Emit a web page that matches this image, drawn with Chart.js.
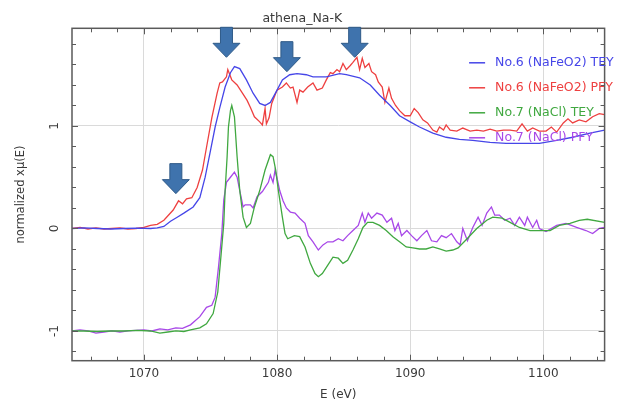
<!DOCTYPE html>
<html><head><meta charset="utf-8">
<style>html,body{margin:0;padding:0;background:#fff;}canvas{display:block;}</style>
<script src="https://cdn.jsdelivr.net/npm/chart.js@4.4.0/dist/chart.umd.min.js"></script>
</head><body>
<canvas id="c" width="630" height="403"></canvas>
<script>
// ---- data (E in eV, normalized x mu(E)) ----
const seriesNames = ["No.6 (NaFeO2) TEY", "No.6 (NaFeO2) PFY", "No.7 (NaCl) TEY", "No.7 (NaCl) PFY"];
const seriesColors = ["#4646e8", "#ee4040", "#40a840", "#a848e8"];

const feTeyE = [1064.6,1065.5,1066.5,1067.5,1068.5,1069.5,1070.5,1071.0,1071.5,1072.0,1072.5,1073.0,1073.7,1074.2,1074.6,1075.0,1075.35,1075.7,1076.1,1076.5,1076.8,1077.2,1077.7,1078.2,1078.7,1079.1,1079.5,1080.0,1080.4,1080.95,1081.5,1082.2,1082.7,1083.7,1084.7,1085.2,1086.2,1087.0,1087.7,1088.5,1089.2,1090.0,1090.7,1091.7,1092.7,1093.7,1094.7,1096.0,1097.2,1098.5,1099.7,1101.0,1102.2,1103.5,1104.6];
const feTeyMu = [0.00,0.005,0.0,-0.005,0.0,0.003,0.0,0.005,0.02,0.07,0.11,0.15,0.21,0.30,0.50,0.76,0.99,1.18,1.38,1.52,1.58,1.56,1.45,1.32,1.22,1.20,1.23,1.35,1.45,1.50,1.51,1.50,1.48,1.48,1.51,1.50,1.47,1.40,1.30,1.20,1.10,1.04,0.99,0.93,0.89,0.87,0.86,0.84,0.83,0.83,0.83,0.86,0.89,0.93,0.96];

const fePfyE = [1064.6,1065.2,1065.8,1066.4,1067.0,1067.6,1068.2,1068.8,1069.4,1070.0,1070.5,1071.0,1071.5,1072.2,1072.6,1072.9,1073.2,1073.6,1074.0,1074.4,1074.7,1075.1,1075.5,1075.7,1075.9,1076.2,1076.3,1076.6,1077.0,1077.4,1077.75,1078.0,1078.3,1078.7,1078.9,1079.1,1079.2,1079.4,1079.6,1080.0,1080.4,1080.7,1081.0,1081.2,1081.5,1081.7,1081.95,1082.3,1082.7,1083.0,1083.4,1083.7,1084.0,1084.2,1084.5,1084.7,1084.95,1085.2,1085.5,1085.7,1086.0,1086.2,1086.4,1086.6,1086.9,1087.1,1087.4,1087.6,1087.9,1088.1,1088.4,1088.6,1088.9,1089.2,1089.6,1090.0,1090.3,1090.6,1090.95,1091.3,1091.7,1092.0,1092.2,1092.5,1092.7,1093.0,1093.5,1093.95,1094.5,1095.0,1095.5,1096.0,1096.5,1097.0,1097.5,1098.0,1098.4,1098.8,1099.2,1099.7,1100.2,1100.6,1101.0,1101.5,1101.85,1102.2,1102.7,1103.2,1103.7,1104.2,1104.6];
const fePfyMu = [0.00,0.01,-0.005,0.005,-0.005,0.0,0.005,-0.005,0.0,0.01,0.03,0.04,0.08,0.18,0.27,0.24,0.29,0.30,0.40,0.57,0.79,1.08,1.32,1.42,1.43,1.48,1.55,1.45,1.40,1.32,1.25,1.18,1.09,1.04,1.01,1.17,1.02,1.08,1.22,1.35,1.38,1.42,1.37,1.38,1.23,1.35,1.33,1.38,1.42,1.35,1.37,1.45,1.52,1.51,1.55,1.53,1.61,1.55,1.59,1.62,1.67,1.55,1.66,1.57,1.61,1.53,1.50,1.43,1.38,1.23,1.37,1.27,1.20,1.15,1.10,1.10,1.17,1.13,1.06,1.03,0.96,0.94,0.99,0.96,1.01,0.96,0.95,0.98,0.95,0.96,0.95,0.97,0.95,0.96,0.96,0.95,1.02,0.95,0.98,0.95,0.95,0.99,0.94,1.03,1.07,1.03,1.06,1.04,1.09,1.12,1.11];

const clTeyE = [1064.6,1065.5,1066.5,1067.5,1068.5,1069.5,1070.5,1071.2,1071.8,1072.4,1073.0,1073.5,1074.2,1074.7,1075.2,1075.55,1075.8,1076.0,1076.1,1076.25,1076.35,1076.5,1076.6,1076.8,1077.0,1077.2,1077.45,1077.7,1078.0,1078.3,1078.7,1079.1,1079.5,1079.7,1079.9,1080.1,1080.4,1080.6,1080.8,1081.3,1081.7,1082.1,1082.5,1082.85,1083.1,1083.4,1083.8,1084.2,1084.6,1084.95,1085.3,1085.7,1086.1,1086.45,1086.8,1087.2,1087.7,1088.2,1088.7,1089.2,1089.7,1090.2,1090.7,1091.2,1091.7,1092.2,1092.7,1093.2,1093.6,1094.2,1095.0,1095.75,1096.2,1096.9,1097.5,1098.2,1099.0,1099.7,1100.5,1101.2,1102.0,1102.7,1103.3,1104.6];
const clTeyMu = [-1.00,-1.00,-1.005,-1.0,-1.0,-0.995,-1.0,-1.02,-1.01,-1.0,-1.005,-0.99,-0.97,-0.93,-0.83,-0.62,-0.25,0.05,0.37,0.70,0.99,1.15,1.20,1.09,0.70,0.37,0.11,0.01,0.05,0.21,0.37,0.57,0.72,0.70,0.57,0.37,0.11,-0.05,-0.10,-0.07,-0.08,-0.18,-0.34,-0.44,-0.47,-0.44,-0.36,-0.28,-0.29,-0.34,-0.31,-0.21,-0.10,0.01,0.06,0.06,0.03,-0.02,-0.08,-0.13,-0.18,-0.19,-0.20,-0.20,-0.18,-0.20,-0.22,-0.21,-0.19,-0.11,0.00,0.08,0.11,0.10,0.06,0.01,-0.02,-0.02,-0.02,0.03,0.05,0.08,0.09,0.06];

const clPfyE = [1064.6,1065.2,1065.8,1066.4,1067.0,1067.6,1068.2,1068.8,1069.4,1070.0,1070.6,1071.2,1071.8,1072.4,1072.9,1073.5,1074.2,1074.7,1075.1,1075.35,1075.6,1075.85,1076.0,1076.2,1076.5,1076.8,1077.0,1077.2,1077.45,1077.6,1078.0,1078.2,1078.5,1078.9,1079.1,1079.35,1079.5,1079.7,1079.85,1080.0,1080.2,1080.45,1080.7,1081.0,1081.35,1081.7,1082.1,1082.35,1082.7,1083.1,1083.45,1083.8,1084.2,1084.6,1084.95,1085.3,1085.7,1086.1,1086.4,1086.6,1086.85,1087.1,1087.5,1087.9,1088.25,1088.6,1088.85,1089.1,1089.35,1089.75,1090.1,1090.5,1090.85,1091.25,1091.6,1092.0,1092.35,1092.7,1093.1,1093.5,1093.75,1093.95,1094.3,1094.7,1095.1,1095.4,1095.75,1096.1,1096.35,1096.7,1097.1,1097.5,1097.85,1098.2,1098.6,1098.8,1099.2,1099.5,1099.7,1100.2,1101.0,1101.7,1102.5,1103.2,1103.7,1104.2,1104.6];
const clPfyMu = [-1.00,-0.99,-1.0,-1.02,-1.01,-1.0,-1.01,-1.0,-0.995,-0.99,-1.0,-0.98,-0.99,-0.97,-0.975,-0.94,-0.86,-0.77,-0.75,-0.67,-0.38,-0.05,0.28,0.45,0.50,0.55,0.50,0.37,0.21,0.23,0.23,0.20,0.31,0.36,0.40,0.45,0.52,0.45,0.57,0.49,0.37,0.27,0.20,0.16,0.15,0.10,0.05,-0.07,-0.13,-0.21,-0.16,-0.13,-0.13,-0.10,-0.12,-0.07,-0.02,0.03,0.15,0.06,0.15,0.10,0.15,0.13,0.06,0.10,-0.02,0.05,-0.07,-0.02,-0.07,-0.12,-0.07,-0.02,-0.12,-0.13,-0.07,-0.09,-0.05,-0.13,-0.16,0.00,-0.12,0.01,0.11,0.03,0.15,0.21,0.13,0.13,0.08,0.10,0.03,0.11,0.03,0.11,0.01,0.08,0.00,-0.03,0.03,0.05,0.01,-0.02,-0.05,0.00,0.01];

// axis ranges and tick labels
const xMin = 1064.6, xMax = 1104.6;
const yMin = -1.29, yMax = 1.953;
const xTickLabels = [1070, 1080, 1090, 1100];
const yTickLabels = [-1, 0, 1];
const xMinorStep = 2, yMinorStep = 0.2;

// annotation arrows (tip positions, data units)
const arrowE = [1072.4, 1076.2, 1080.74, 1085.83];
const arrowMu = [0.34, 1.67, 1.53, 1.67];

const chartTitle = "athena_Na-K";
const xTitle = "E (eV)";
const yTitle = "normalized x\u03bc(E)";

// ---- build ----
function pts(xs, ys) { return xs.map((x, i) => ({x: x, y: ys[i]})); }
const seriesData = [pts(feTeyE, feTeyMu), pts(fePfyE, fePfyMu), pts(clTeyE, clTeyMu), pts(clPfyE, clPfyMu)];

Chart.defaults.font.family = "'DejaVu Sans', sans-serif";
const txtColor = "#3a3a3a";

const framePlugin = {
  id: 'frame',
  afterDatasetsDraw(chart) {
    const ctx = chart.ctx, a = chart.chartArea, xs = chart.scales.x, ys = chart.scales.y;
    ctx.save();
    ctx.strokeStyle = "#5a5a5a";
    ctx.lineWidth = 1;
    for (let v = Math.ceil(xMin / xMinorStep) * xMinorStep; v <= xMax + 1e-9; v += xMinorStep) {
      const px = Math.round(xs.getPixelForValue(v)) + 0.5;
      const len = (Math.abs(v % 10) < 1e-6) ? 6 : 4;
      ctx.beginPath();
      ctx.moveTo(px, a.bottom); ctx.lineTo(px, a.bottom - len);
      ctx.moveTo(px, a.top); ctx.lineTo(px, a.top + len);
      ctx.stroke();
    }
    for (let k = Math.ceil(yMin / yMinorStep); k * yMinorStep <= yMax + 1e-9; k++) {
      const v = k * yMinorStep;
      const py = Math.round(ys.getPixelForValue(v)) + 0.5;
      const len = (k % 5 === 0) ? 6 : 4;
      ctx.beginPath();
      ctx.moveTo(a.left, py); ctx.lineTo(a.left + len, py);
      ctx.moveTo(a.right, py); ctx.lineTo(a.right - len, py);
      ctx.stroke();
    }
    ctx.lineWidth = 1.5;
    ctx.strokeRect(a.left, a.top, a.right - a.left, a.bottom - a.top);
    ctx.restore();
  },
  afterDraw(chart) {
    const ctx = chart.ctx, a = chart.chartArea, xs = chart.scales.x, ys = chart.scales.y;
    ctx.save();
    for (let i = 0; i < arrowE.length; i++) {
      const tx = xs.getPixelForValue(arrowE[i]);
      const ty = ys.getPixelForValue(arrowMu[i]);
      const headH = 14, shaftH = 16, headW = 13.5, shaftW = 6;
      ctx.beginPath();
      ctx.moveTo(tx, ty);
      ctx.lineTo(tx - headW, ty - headH);
      ctx.lineTo(tx - shaftW, ty - headH);
      ctx.lineTo(tx - shaftW, ty - headH - shaftH);
      ctx.lineTo(tx + shaftW, ty - headH - shaftH);
      ctx.lineTo(tx + shaftW, ty - headH);
      ctx.lineTo(tx + headW, ty - headH);
      ctx.closePath();
      ctx.fillStyle = "#3f73ad";
      ctx.fill();
      ctx.strokeStyle = "#2f5a88";
      ctx.lineWidth = 1;
      ctx.stroke();
    }
    ctx.font = "12.5px 'DejaVu Sans', sans-serif";
    ctx.textBaseline = "middle";
    ctx.textAlign = "left";
    for (let i = 0; i < seriesNames.length; i++) {
      const y = a.top + 34.5 + i * 25;
      ctx.strokeStyle = seriesColors[i];
      ctx.lineWidth = 1.5;
      ctx.beginPath();
      ctx.moveTo(a.right - 135.5, y); ctx.lineTo(a.right - 119.5, y);
      ctx.stroke();
      ctx.fillStyle = seriesColors[i];
      ctx.fillText(seriesNames[i], a.right - 109.5, y);
    }
    ctx.restore();
  }
};

new Chart(document.getElementById('c'), {
  type: 'line',
  data: {
    datasets: seriesData.map((d, i) => ({
      label: seriesNames[i],
      data: d,
      borderColor: seriesColors[i],
      backgroundColor: seriesColors[i],
      borderWidth: 1.3,
      pointRadius: 0,
      tension: 0,
      fill: false
    }))
  },
  options: {
    responsive: false,
    animation: false,
    parsing: false,
    layout: { padding: { left: 0, right: 25.4, top: 0, bottom: 0 } },
    plugins: {
      legend: { display: false },
      tooltip: { enabled: false },
      title: {
        display: true, text: chartTitle, color: txtColor,
        font: { size: 12.5, weight: 'normal' },
        padding: { top: 11, bottom: 2.3 }
      }
    },
    scales: {
      x: {
        type: 'linear', min: xMin, max: xMax,
        afterBuildTicks: s => { s.ticks = xTickLabels.map(v => ({value: v})); },
        afterFit: s => { s.height = 42.3; },
        grid: { color: "#dadada", lineWidth: 1, drawTicks: false },
        border: { display: false },
        ticks: { color: txtColor, font: { size: 12 }, padding: 6, maxRotation: 0, callback: v => String(v) },
        title: { display: true, text: xTitle, color: txtColor, font: { size: 12 }, padding: { top: 0, bottom: 1 } }
      },
      y: {
        type: 'linear', min: yMin, max: yMax,
        afterBuildTicks: s => { s.ticks = yTickLabels.map(v => ({value: v})); },
        afterFit: s => { s.width = 72; },
        grid: { color: "#dadada", lineWidth: 1, drawTicks: false },
        border: { display: false },
        ticks: { color: txtColor, font: { size: 12 }, padding: 11, minRotation: 90, maxRotation: 90, crossAlign: 'center', callback: v => String(v) },
        title: { display: true, text: yTitle, color: txtColor, font: { size: 11.5 }, padding: { top: 14, bottom: 0 } }
      }
    }
  },
  plugins: [framePlugin]
});
</script>
</body></html>
